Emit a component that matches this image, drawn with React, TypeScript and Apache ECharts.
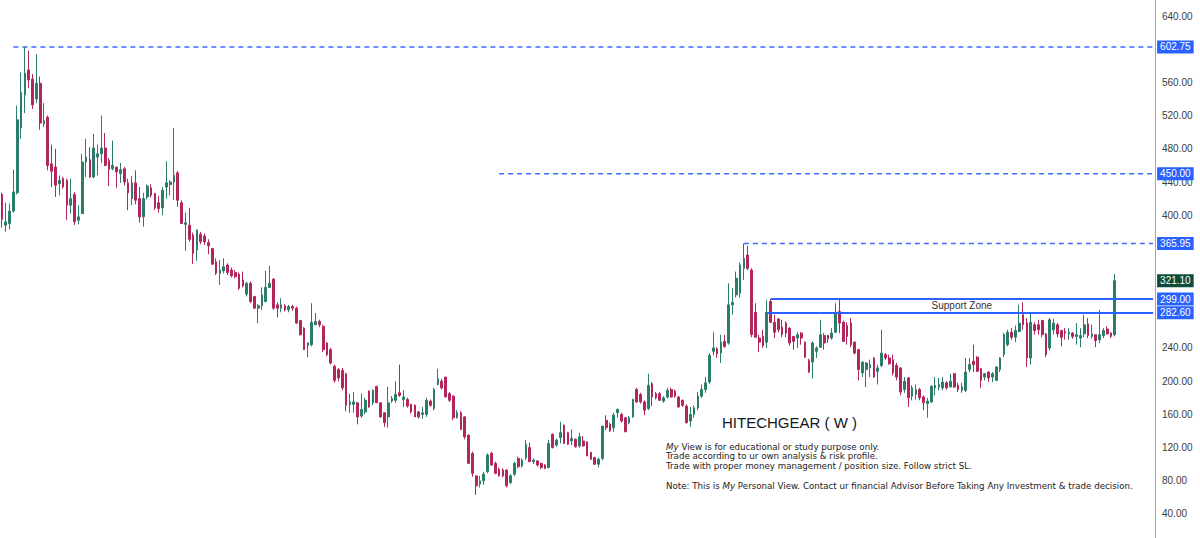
import React, { useEffect, useRef } from "react";
import * as echarts from "echarts";

// Weekly OHLC (first week ~ 2017-10-30)
const open = [
  425, 388, 390, 405, 427, 505, 545, 575, 564, 540,
  559, 510, 518, 462, 458, 438, 444, 442, 412, 425,
  394, 402, 464, 467, 446, 470, 474, 481, 466, 456,
  458, 450, 456, 439, 420, 439, 420, 398, 422, 433,
  426, 415, 409, 434, 437, 440, 451, 415, 389, 388,
  376, 358, 377, 375, 367, 360, 344, 330, 333, 340,
  334, 331, 329, 322, 305, 318, 302, 288, 291, 296,
  313, 323, 292, 288, 291, 286, 290, 288, 273, 264,
  243, 244, 268, 272, 266, 246, 238, 218, 214, 213,
  209, 172, 172, 174, 158, 163, 188, 174, 194, 174,
  162, 157, 176, 177, 186, 178, 178, 172, 171, 163,
  160, 160, 176, 167, 196, 200, 205, 185, 182, 156,
  162, 157, 135, 113, 86, 76, 80, 91, 113, 101,
  94, 93, 93, 78, 88, 107, 98, 108, 120, 103,
  104, 101, 99, 96, 136, 123, 132, 147, 138, 128,
  130, 122, 128, 127, 114, 108, 100, 107, 153, 148,
  144, 162, 160, 156, 150, 157, 190, 184, 175, 167,
  197, 185, 185, 176, 181, 190, 188, 181, 177, 170,
  152, 160, 168, 182, 190, 199, 236, 239, 234, 248,
  246, 292, 304, 306, 336, 352, 334, 283, 252, 254,
  247, 296, 271, 275, 265, 270, 264, 254, 252, 258,
  247, 225, 223, 236, 241, 255, 255, 252, 259, 284,
  271, 267, 270, 247, 238, 210, 214, 216, 228, 212,
  219, 232, 228, 226, 219, 216, 190, 204, 182, 184,
  190, 181, 173, 175, 192, 193, 192, 198, 193, 209,
  195, 189, 189, 214, 224, 229, 215, 205, 211, 205,
  201, 214, 232, 244, 259, 253, 260, 280, 270, 228,
  268, 268, 273, 257, 240, 262, 268, 261, 260, 257,
  258, 254, 252, 257, 269, 254, 256, 250, 255, 263,
  258, 256,
];
const close = [
  395, 392, 405, 428, 515, 548, 571, 563, 533, 559,
  511, 514, 460, 453, 436, 442, 434, 412, 420, 392,
  398, 464, 470, 446, 481, 474, 481, 460, 455, 460,
  452, 455, 440, 427, 439, 418, 398, 420, 435, 424,
  409, 408, 430, 439, 440, 448, 418, 390, 391, 371,
  354, 382, 368, 368, 363, 341, 330, 334, 338, 331,
  327, 326, 312, 315, 318, 296, 288, 291, 304, 313,
  318, 288, 288, 292, 286, 290, 288, 270, 256, 238,
  246, 271, 272, 268, 238, 232, 222, 201, 204, 192,
  171, 175, 175, 157, 166, 177, 169, 189, 174, 157,
  150, 174, 179, 184, 183, 181, 170, 163, 157, 157,
  162, 177, 171, 190, 203, 192, 181, 177, 156, 162,
  142, 133, 101, 89, 74, 80, 88, 111, 99, 89,
  86, 86, 74, 86, 101, 97, 105, 124, 103, 105,
  99, 96, 95, 125, 120, 129, 138, 125, 124, 131,
  121, 133, 122, 110, 106, 100, 106, 146, 144, 140,
  159, 166, 152, 139, 156, 178, 175, 175, 165, 195,
  181, 180, 177, 180, 189, 181, 182, 169, 171, 150,
  160, 168, 182, 190, 198, 231, 240, 233, 247, 242,
  292, 295, 324, 340, 348, 336, 256, 253, 247, 243,
  283, 271, 259, 262, 256, 258, 246, 248, 256, 252,
  229, 211, 246, 240, 256, 246, 251, 258, 282, 270,
  248, 254, 244, 234, 214, 223, 222, 220, 205, 216,
  234, 228, 221, 210, 205, 187, 200, 180, 192, 190,
  180, 174, 176, 194, 195, 196, 199, 192, 200, 193,
  190, 193, 211, 220, 220, 212, 201, 209, 204, 209,
  217, 228, 256, 259, 253, 261, 270, 268, 228, 271,
  261, 262, 256, 232, 274, 270, 257, 253, 258, 259,
  254, 256, 255, 268, 255, 257, 249, 256, 261, 257,
  254, 321.1,
];
const low = [
  385, 380, 383, 403, 425, 492, 523, 553, 528, 535,
  503, 506, 454, 434, 422, 424, 432, 394, 402, 388,
  389, 402, 446, 445, 445, 448, 463, 459, 435, 454,
  433, 439, 436, 406, 412, 413, 391, 386, 419, 421,
  406, 403, 400, 420, 424, 418, 410, 390, 357, 368,
  341, 345, 365, 364, 353, 340, 328, 316, 330, 328,
  325, 324, 310, 313, 302, 294, 287, 270, 286, 295,
  313, 286, 277, 283, 284, 283, 285, 269, 255, 238,
  229, 242, 268, 265, 235, 230, 220, 198, 200, 189,
  164, 162, 162, 148, 156, 160, 168, 171, 174, 156,
  145, 144, 174, 174, 181, 169, 168, 161, 157, 155,
  155, 157, 169, 165, 195, 190, 181, 175, 153, 155,
  141, 130, 101, 85, 63, 72, 75, 89, 98, 88,
  85, 84, 72, 76, 86, 95, 96, 105, 103, 100,
  97, 94, 94, 95, 119, 121, 125, 125, 123, 123,
  120, 120, 121, 110, 105, 99, 96, 105, 141, 139,
  139, 156, 150, 139, 148, 156, 174, 173, 159, 165,
  170, 178, 176, 174, 179, 180, 180, 168, 169, 149,
  145, 156, 165, 180, 186, 197, 231, 228, 222, 240,
  244, 280, 301, 301, 322, 334, 253, 252, 235, 240,
  240, 270, 252, 259, 253, 253, 243, 238, 240, 244,
  228, 210, 203, 228, 240, 238, 246, 250, 258, 258,
  247, 244, 241, 232, 201, 205, 193, 205, 204, 196,
  217, 226, 220, 207, 201, 183, 186, 169, 177, 178,
  177, 165, 156, 174, 183, 189, 189, 190, 193, 192,
  187, 186, 187, 211, 211, 211, 192, 201, 199, 199,
  200, 211, 229, 242, 250, 247, 259, 262, 217, 220,
  256, 256, 253, 229, 237, 256, 253, 242, 250, 250,
  251, 244, 241, 253, 252, 251, 241, 246, 252, 256,
  252, 254,
];
const high = [
  427, 415, 414, 455, 532, 572, 602.75, 598, 570, 594,
  567, 535, 520, 485, 480, 448, 446, 444, 444, 428,
  412, 474, 492, 482, 498, 485, 520, 499, 469, 490,
  458, 463, 458, 444, 447, 454, 434, 427, 437, 437,
  427, 423, 434, 465, 442, 505, 453, 418, 403, 409,
  379, 383, 380, 378, 371, 360, 348, 346, 348, 342,
  337, 334, 331, 332, 320, 320, 303, 293, 313, 333,
  339, 324, 295, 300, 293, 292, 292, 290, 274, 265,
  247, 294, 282, 274, 268, 247, 240, 220, 216, 216,
  210, 185, 187, 174, 185, 180, 189, 190, 194, 174,
  162, 193, 182, 200, 220, 189, 180, 173, 172, 164,
  169, 180, 178, 192, 215, 203, 205, 187, 183, 165,
  164, 158, 136, 115, 86, 86, 91, 113, 115, 103,
  96, 95, 94, 88, 103, 109, 107, 129, 126, 107,
  105, 102, 100, 129, 137, 131, 151, 148, 139, 142,
  131, 138, 134, 127, 115, 109, 108, 146, 159, 150,
  162, 167, 162, 156, 158, 179, 192, 186, 177, 209,
  199, 187, 187, 182, 192, 192, 190, 182, 178, 172,
  169, 171, 187, 196, 205, 234, 259, 241, 256, 256,
  318, 312, 332, 343, 365.95, 363, 336, 294, 256, 262,
  298, 299, 280, 276, 274, 272, 265, 254, 259, 259,
  248, 227, 248, 242, 274, 258, 256, 264, 294, 299,
  273, 271, 276, 248, 239, 224, 223, 226, 229, 220,
  262, 234, 232, 232, 222, 217, 205, 205, 195, 196,
  192, 183, 180, 195, 205, 204, 205, 200, 209, 210,
  198, 198, 228, 228, 244, 230, 216, 210, 212, 211,
  218, 229, 258, 262, 264, 267, 292, 295, 276, 283,
  271, 274, 274, 258, 276, 275, 270, 262, 264, 264,
  259, 270, 264, 280, 276, 268, 256, 286, 264, 266,
  259, 329,
];

// Price-axis tick labels
const yTicks = [40, 80, 120, 160, 200, 240, 400, 440, 480, 520, 560, 640];

// Horizontal levels drawn on the chart
const resistanceLevels = [602.75, 450.0, 365.95];
const resistanceStartWeek = [3, 130, 194];
const zoneTop = 299.0;
const zoneBottom = 282.6;
const zoneTopStartWeek = 201;
const zoneBottomStartWeek = 200;
const lastPrice = 321.1;

const PAD_WEEKS = 10;
const START = Date.UTC(2017, 9, 30);
const categories = Array.from({ length: open.length + PAD_WEEKS }, (_, i) =>
  new Date(START + i * 7 * 86400000).toISOString().slice(0, 10)
);

const FONT = "Liberation Sans";
const NOTE_FONT = "DejaVu Sans";
const NOTE_SIZE = 8.7;
const BLUE = "#2962ff";
const DASH_BLUE = "#3a6cff";

export default function App() {
  const ref = useRef<HTMLDivElement>(null);
  useEffect(() => {
    if (!ref.current) return;
    const chart = echarts.init(ref.current, null, { renderer: "svg" });
    const lastIdx = categories.length - 1;
    const candles = open.map((o, i) => [o, close[i], low[i], high[i]]);

    const tagLabel = (bg: string) => ({
      show: true,
      position: "end",
      formatter: "{b}",
      color: "#ffffff",
      backgroundColor: bg,
      padding: [1, 3],
      lineHeight: 11,
      fontSize: 10,
      fontFamily: FONT,
      distance: 4,
    });
    const hidden = { type: "solid", color: "rgba(255,255,255,0)", width: 1 };

    // axis tags (invisible carrier lines) + solid support-zone lines
    const lines: any[] = resistanceLevels.map((v) => [
      { coord: [lastIdx - 1, v], name: v.toFixed(2), lineStyle: hidden, label: tagLabel(BLUE) },
      { coord: [lastIdx, v] },
    ]);
    lines.push([
      {
        coord: [zoneTopStartWeek, zoneTop],
        name: zoneTop.toFixed(2),
        lineStyle: { type: "solid", color: BLUE, width: 2 },
        label: tagLabel(BLUE),
      },
      { coord: [lastIdx, zoneTop] },
    ]);
    lines.push([
      {
        coord: [zoneBottomStartWeek, zoneBottom],
        name: zoneBottom.toFixed(2),
        lineStyle: { type: "solid", color: BLUE, width: 2 },
        label: tagLabel(BLUE),
      },
      { coord: [lastIdx, zoneBottom] },
    ]);
    lines.push([
      { coord: [open.length - 1, lastPrice], name: lastPrice.toFixed(2), lineStyle: hidden, label: tagLabel("#0f4b3b") },
      { coord: [lastIdx, lastPrice] },
    ]);

    // dashed resistance lines as line series
    const dashedSeries = resistanceLevels.map((v, k) => ({
      type: "line",
      silent: true,
      symbol: "none",
      connectNulls: true,
      z: 3,
      color: DASH_BLUE,
      lineStyle: { type: [5, 4], color: DASH_BLUE, width: 1.5 },
      data: categories.map((_, i) => (i === resistanceStartWeek[k] || i === lastIdx ? v : null)),
    }));

    const disclaimer = [
      "{i|My} View is for educational or study purpose only.",
      "Trade according to ur own analysis & risk profile.",
      "Trade with proper money management / position size. Follow strict SL.",
    ];
    const noteRich = {
      i: { fontStyle: "italic", fontSize: NOTE_SIZE, fontFamily: NOTE_FONT, fill: "#222222" },
    };

    chart.setOption({
      animation: false,
      backgroundColor: "#ffffff",
      grid: { left: 0, right: 45, top: 0, bottom: 0 },
      xAxis: {
        type: "category",
        data: categories,
        boundaryGap: true,
        show: false,
      },
      yAxis: {
        type: "value",
        position: "right",
        min: 11.08,
        max: 659.28,
        axisLine: { show: true, lineStyle: { color: "#a3a6af", width: 1 } },
        axisTick: { show: false },
        splitLine: { show: false },
        axisLabel: {
          customValues: yTicks,
          formatter: (v: number) => v.toFixed(2),
          color: "#3b3b3b",
          fontSize: 10,
          fontFamily: FONT,
          margin: 7,
        },
      },
      series: [
        {
          type: "candlestick",
          data: candles,
          barWidth: 2.2,
          z: 4,
          itemStyle: {
            color: "#2a7c6b",
            color0: "#b3265d",
            borderColor: "#2a7c6b",
            borderColor0: "#b3265d",
            borderWidth: 1,
          },
          markLine: {
            silent: true,
            symbol: ["none", "none"],
            data: lines,
          },
          markArea: {
            silent: true,
            itemStyle: { color: "rgba(0,0,0,0)" },
            label: {
              show: true,
              position: "inside",
              color: "#333333",
              fontSize: 10,
              fontFamily: FONT,
            },
            data: [
              [
                { coord: [zoneTopStartWeek, zoneTop], name: "Support Zone" },
                { coord: [lastIdx, zoneBottom] },
              ],
            ],
          },
        },
        ...dashedSeries,
      ],
      graphic: [
        {
          type: "text",
          left: 722,
          top: 415,
          style: {
            text: "HITECHGEAR ( W )",
            fontSize: 15,
            fontFamily: FONT,
            fill: "#131722",
          },
        },
        ...disclaimer.map((t, k) => ({
          type: "text",
          left: 666,
          top: 442 + k * 9.5,
          style: {
            text: t,
            fontSize: NOTE_SIZE,
            fontFamily: NOTE_FONT,
            fill: "#222222",
            rich: noteRich,
          },
        })),
        {
          type: "text",
          left: 666,
          top: 481,
          style: {
            text:
              "Note: This is {i|My} Personal View. Contact ur financial Advisor Before Taking Any Investment & trade decision.",
            fontSize: NOTE_SIZE,
            fontFamily: NOTE_FONT,
            fill: "#222222",
            rich: noteRich,
          },
        },
      ],
    });
    return () => chart.dispose();
  }, []);
  return (
    <div
      ref={ref}
      style={{ position: "absolute", left: 0, top: 0, width: 1200, height: 538 }}
    />
  );
}
